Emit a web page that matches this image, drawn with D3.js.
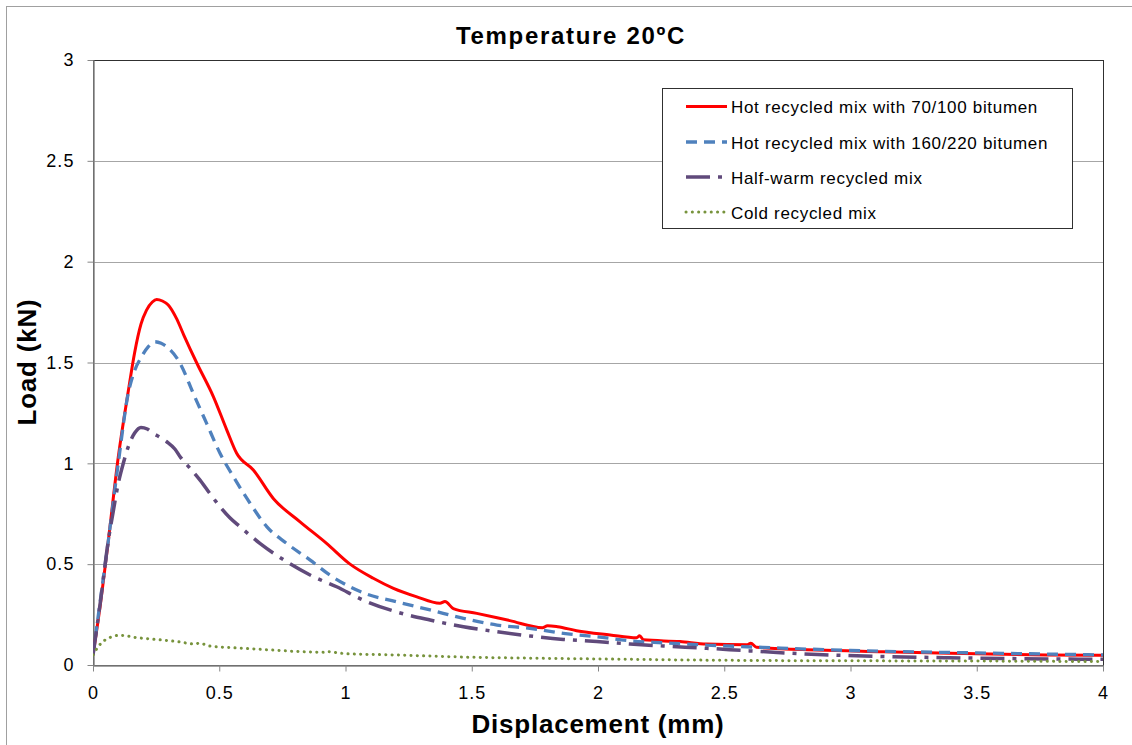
<!DOCTYPE html>
<html>
<head>
<meta charset="utf-8">
<script src="https://cdn.jsdelivr.net/npm/d3@7"></script>
<style>
	body { margin: 0; background: #fff; }
	text { font-family: "Liberation Sans", Arial, sans-serif; fill: #000; }
	.tick text { font-size: 18px; letter-spacing: 0.06em; }
	.legend text { font-size: 17px; letter-spacing: 0.04em; }
</style>
</head>
<body>
<script>
//chart values: [displacement mm, load kN]
var hot70 = [[0,0.05],[0.028,0.29],[0.061,0.62],[0.10,1.03],[0.14,1.36],[0.165,1.55],[0.19,1.69],[0.212,1.76],[0.235,1.80],
	[0.252,1.813],[0.275,1.805],[0.298,1.785],[0.33,1.72],[0.36,1.635],[0.41,1.50],[0.477,1.33],[0.53,1.165],[0.569,1.05],
	[0.635,0.967],[0.714,0.826],[0.82,0.71],[0.925,0.603],[1.018,0.50],[1.11,0.43],[1.19,0.38],[1.28,0.339],
	[1.374,0.306],[1.394,0.315],[1.427,0.28],[1.52,0.256],[1.651,0.22],[1.78,0.185],[1.80,0.195],[1.84,0.19],
	[1.915,0.17],[2.048,0.149],[2.153,0.135],[2.165,0.145],[2.18,0.125],[2.325,0.116],[2.43,0.104],[2.59,0.10],
	[2.605,0.108],[2.628,0.088],[2.866,0.074],[3.13,0.066],[3.394,0.058],[3.777,0.05],[4.0,0.048]];

var hot160 = [[0,0.05],[0.03,0.33],[0.06,0.61],[0.10,1.0],[0.14,1.35],[0.165,1.46],[0.193,1.53],[0.22,1.58],
	[0.245,1.603],[0.27,1.595],[0.292,1.578],[0.345,1.496],[0.397,1.347],[0.45,1.198],[0.503,1.05],[0.556,0.934],
	[0.622,0.802],[0.688,0.686],[0.767,0.603],[0.859,0.521],[0.939,0.445],[1.07,0.358],[1.2,0.314],[1.335,0.273],
	[1.467,0.231],[1.6,0.198],[1.73,0.182],[1.863,0.157],[1.995,0.14],[2.127,0.12],[2.26,0.11],[2.43,0.099],
	[2.7,0.085],[3.0,0.072],[3.5,0.06],[4.0,0.05]];

var halfWarm = [[0,0.05],[0.03,0.32],[0.061,0.62],[0.08,0.76],[0.10,0.90],[0.12,1.0],[0.14,1.083],[0.165,1.15],
	[0.19,1.178],[0.215,1.17],[0.24,1.147],[0.265,1.13],[0.292,1.107],[0.325,1.07],[0.345,1.033],[0.385,0.975],
	[0.424,0.917],[0.463,0.85],[0.503,0.785],[0.542,0.73],[0.582,0.686],[0.661,0.603],[0.767,0.512],[0.873,0.438],
	[0.965,0.388],[1.07,0.322],[1.2,0.264],[1.335,0.223],[1.467,0.19],[1.6,0.165],[1.73,0.144],[1.863,0.127],
	[1.995,0.116],[2.127,0.104],[2.26,0.094],[2.43,0.083],[2.6,0.07],[2.87,0.052],[3.1,0.043],[3.39,0.036],
	[3.78,0.03],[4.0,0.028]];

var cold = [[0,0.05],[0.02,0.09],[0.048,0.124],[0.075,0.14],[0.10,0.147],[0.13,0.145],[0.166,0.137],[0.22,0.13],
	[0.272,0.124],[0.34,0.115],[0.404,0.104],[0.42,0.108],[0.463,0.094],[0.55,0.086],[0.661,0.078],[0.8,0.068],
	[0.925,0.063],[0.93,0.066],[1.0,0.056],[1.19,0.05],[1.45,0.04],[1.78,0.033],[2.0,0.03],[2.34,0.025],
	[2.87,0.021],[3.39,0.02],[4.0,0.017]];

var seriesNames = ["Hot recycled mix with 70/100 bitumen", "Hot recycled mix with 160/220 bitumen",
	"Half-warm recycled mix", "Cold recycled mix"];
var xTicks = [0, 0.5, 1, 1.5, 2, 2.5, 3, 3.5, 4];
var yTicks = [0, 0.5, 1, 1.5, 2, 2.5, 3];

//line styles for each series
var styles = [
	{color: "#ff0000", width: 3, dash: null, cap: "butt"},
	{color: "#4f81bd", width: 3.3, dash: "11,7", cap: "butt"},
	{color: "#604a7b", width: 3.5, dash: "24,8,4,8", cap: "butt"},
	{color: "#77933c", width: 3, dash: "0.1,6.2", cap: "round"}
];
var allData = [hot70, hot160, halfWarm, cold];

var W = 1132, H = 745;
var margin = {top: 60, left: 93, right: 1103, bottom: 665};

var svg = d3.select("body").append("svg")
	.attr("width", W)
	.attr("height", H);

//outer chart border
svg.append("rect")
	.attr("x", 6.5).attr("y", 6.5)
	.attr("width", W + 20).attr("height", H + 20)
	.style("fill", "none").style("stroke", "#a0a0a0");

var xScale = d3.scaleLinear().domain([0, 4]).range([margin.left, margin.right]),
	yScale = d3.scaleLinear().domain([0, 3]).range([margin.bottom, margin.top]);

//grid lines
svg.append("g").selectAll("line")
	.data(yTicks.slice(1)).enter()
		.append("line")
		.attr("x1", margin.left).attr("x2", margin.right)
		.attr("y1", function(d) { return Math.round(yScale(d)) + 0.5; })
		.attr("y2", function(d) { return Math.round(yScale(d)) + 0.5; })
		.style("stroke", "#a6a6a6");

//plot area border
svg.append("rect")
	.attr("x", margin.left + 0.5).attr("y", margin.top + 0.5)
	.attr("width", margin.right - margin.left).attr("height", margin.bottom - margin.top)
	.style("fill", "none").style("stroke", "#303030");

//axes
var xAxis = d3.axisBottom(xScale).tickValues(xTicks).tickFormat(d3.format("")).tickSize(6).tickSizeOuter(0).tickPadding(15),
	yAxis = d3.axisLeft(yScale).tickValues(yTicks).tickFormat(d3.format("")).tickSize(6).tickSizeOuter(0).tickPadding(13);

var gX = svg.append("g")
	.attr("transform", "translate(0," + (margin.bottom + 0.5) + ")")
	.call(xAxis);
var gY = svg.append("g")
	.attr("transform", "translate(" + (margin.left + 0.5) + ",0)")
	.call(yAxis);
[gX, gY].forEach(function(g) {
	g.select(".domain").style("stroke", "#868686").style("stroke-width", 1.5);
	g.selectAll(".tick line").style("stroke", "#868686");
	g.selectAll(".tick text").style("font-family", "'Liberation Sans', Arial, sans-serif").attr("fill", "#000");
});

//curves
svg.append("clipPath").attr("id", "clip")
	.append("rect")
	.attr("x", margin.left).attr("y", margin.top - 5)
	.attr("width", margin.right - margin.left + 1).attr("height", margin.bottom - margin.top + 5);

var line = d3.line()
	.curve(d3.curveMonotoneX)
	.x(function(d) { return xScale(d[0]); })
	.y(function(d) { return yScale(d[1]); });

var curves = svg.append("g").attr("clip-path", "url(#clip)");
allData.forEach(function(data, i) {
	curves.append("path")
		.datum(data)
		.attr("d", line)
		.style("fill", "none")
		.style("stroke", styles[i].color)
		.style("stroke-width", styles[i].width)
		.style("stroke-dasharray", styles[i].dash)
		.style("stroke-linecap", styles[i].cap)
		.style("stroke-linejoin", "round");
});

//title + axes labels
svg.append("text")
	.attr("x", 571).attr("y", 44)
	.style("text-anchor", "middle")
	.style("font-size", "24px").style("font-weight", "bold").style("letter-spacing", "0.07em")
	.text("Temperature 20ºC");
svg.append("text")
	.attr("x", 598).attr("y", 733)
	.style("text-anchor", "middle")
	.style("font-size", "26px").style("font-weight", "bold").style("letter-spacing", "0.03em")
	.text("Displacement (mm)");
svg.append("text")
	.attr("transform", "rotate(-90)")
	.attr("x", -362).attr("y", 36)
	.style("text-anchor", "middle")
	.style("font-size", "26px").style("font-weight", "bold").style("letter-spacing", "0.03em")
	.text("Load (kN)");

//legend
var legend = svg.append("g").attr("class", "legend");
legend.append("rect")
	.attr("x", 662.5).attr("y", 88.5)
	.attr("width", 410).attr("height", 140)
	.style("fill", "#fff").style("stroke", "#303030");
var legendY = [106.5, 142, 177, 212];
var items = legend.selectAll("g.item")
	.data(seriesNames).enter()
		.append("g").attr("class", "item");
items.append("line")
	.attr("x1", 686).attr("x2", 727)
	.attr("y1", function(d, i) { return legendY[i]; })
	.attr("y2", function(d, i) { return legendY[i]; })
	.style("stroke", function(d, i) { return styles[i].color; })
	.style("stroke-width", function(d, i) { return styles[i].width; })
	.style("stroke-dasharray", function(d, i) { return styles[i].dash; })
	.style("stroke-linecap", function(d, i) { return styles[i].cap; });
items.append("text")
	.attr("x", 731)
	.attr("y", function(d, i) { return legendY[i] + 6.5; })
	.text(function(d) { return d; });
</script>
</body>
</html>
